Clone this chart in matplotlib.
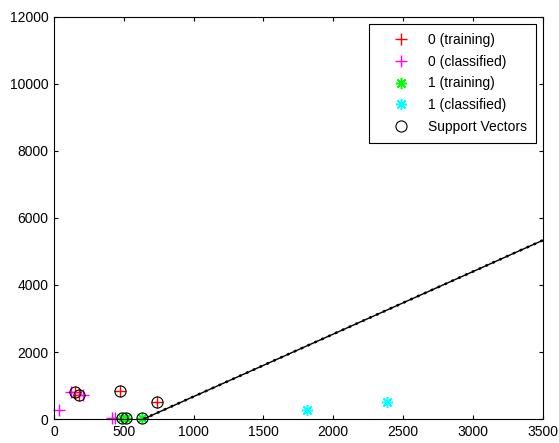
import numpy as np
import matplotlib.pyplot as plt

plt.rcParams['font.family'] = ['Liberation Sans', 'DejaVu Sans']

# class 0 / class 1 points
train0_x = [470, 735, 150, 179]
train0_y = [850, 520, 794, 725]
class0_x = [120, 205, 36, 413, 437]
class0_y = [794, 725, 257, 30, 30]
train1_x = [485, 516, 628]
train1_y = [35, 35, 35]
class1_x = [1813, 2386]
class1_y = [278, 495]
sv_x = [470, 735, 150, 179, 485, 516, 628]
sv_y = [850, 520, 794, 725, 35, 35, 35]

# decision boundary end points
bound_x = [640, 3500]
bound_y = [0, 5330]

star = (8, 2, 0)  # matlab-like asterisk

fig = plt.figure(figsize=(5.59, 4.43), dpi=100)
ax = fig.add_axes([0.0966, 0.054, 0.874, 0.908])

ax.plot(train0_x, train0_y, '+', color='red', ms=9, mew=1, label='0 (training)', linestyle='none', clip_on=False)
ax.plot(class0_x, class0_y, '+', color='magenta', ms=9, mew=1, label='0 (classified)', linestyle='none', clip_on=False)
ax.plot(train1_x, train1_y, marker=star, color='#00ff00', ms=8, mew=1.1, label='1 (training)', linestyle='none', clip_on=False)
ax.plot(class1_x, class1_y, marker=star, color='cyan', ms=8, mew=1.1, label='1 (classified)', linestyle='none', clip_on=False)
ax.plot(sv_x, sv_y, 'o', mfc='none', mec='black', ms=8, mew=0.8, label='Support Vectors', linestyle='none', clip_on=False)
ax.plot(bound_x, bound_y, color='black', lw=1.0)
ax.plot(bound_x, bound_y, color='black', lw=1.8, linestyle=(0, (1, 2)))

ax.set_xlim(0, 3500)
ax.set_ylim(0, 12000)
ax.set_xticks(np.arange(0, 3501, 500))
ax.set_yticks(np.arange(0, 12001, 2000))
ax.tick_params(direction='in', top=True, right=True, labelsize=10, length=3, pad=4)
for s in ax.spines.values():
    s.set_linewidth(0.8)

leg = ax.legend(loc='upper right', fontsize=10, fancybox=False, edgecolor='black',
                framealpha=1, borderaxespad=0.5, handletextpad=0.3, labelspacing=0.56,
                numpoints=1, handlelength=3.3, borderpad=0.65)
leg.get_frame().set_linewidth(0.8)
leg.set_zorder(5)

fig.savefig('out.png', dpi=100)
